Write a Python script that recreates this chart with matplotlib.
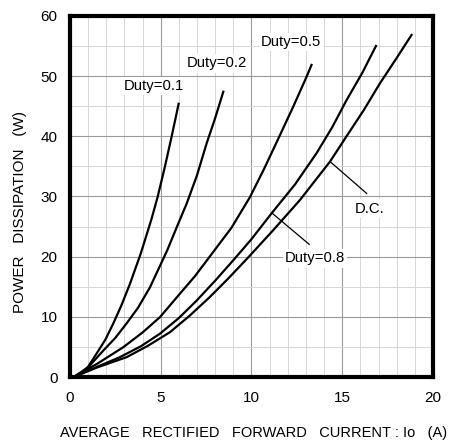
import matplotlib
matplotlib.use("Agg")
import matplotlib.pyplot as plt
from matplotlib.ticker import MultipleLocator

plt.rcParams['font.family'] = ['Liberation Sans', 'DejaVu Sans']

# Power dissipation curves (Io in A, P in W)
duty01_io = [0.2, 0.55, 1.0, 1.47, 1.95, 2.39, 2.85, 3.31, 3.9, 4.5, 4.83, 5.23, 5.6, 5.99]
duty01_p = [0.0, 0.5, 1.7, 3.9, 6.2, 8.9, 12.0, 15.5, 20.5, 26.3, 29.9, 34.9, 39.9, 45.4]

duty02_io = [0.2, 1.0, 1.84, 2.5, 3.12, 3.75, 4.41, 5.36, 5.9, 6.43, 7.0, 7.53, 8.0, 8.45]
duty02_p = [0.0, 1.6, 4.4, 6.5, 8.9, 11.5, 14.9, 21.05, 25.0, 28.8, 33.5, 38.8, 43.0, 47.4]

duty05_io = [0.2, 1.5, 2.94, 4.0, 4.96, 6.06, 6.9, 7.8, 8.9, 9.92, 10.7, 11.48, 12.3, 13.04, 13.31]
duty05_p = [0.0, 2.2, 4.96, 7.4, 9.95, 13.85, 16.8, 20.4, 24.8, 29.9, 34.6, 39.6, 44.9, 49.9, 51.85]

duty08_io = [0.2, 1.5, 2.75, 3.9, 4.96, 6.0, 6.98, 8.0, 9.0, 10.0, 11.11, 12.4, 13.59, 14.45, 15.24, 16.1, 16.86]
duty08_p = [0.0, 1.7, 3.3, 5.1, 7.2, 9.8, 12.7, 16.0, 19.4, 22.9, 27.2, 32.0, 37.2, 41.5, 46.0, 50.5, 55.0]

dc_io = [0.2, 1.5, 3.12, 4.3, 5.51, 6.6, 7.71, 8.7, 9.8, 11.2, 12.67, 14.33, 15.24, 16.2, 17.08, 18.0, 18.82]
dc_p = [0.0, 1.6, 3.3, 5.2, 7.45, 10.2, 13.3, 16.3, 19.8, 24.4, 29.4, 35.8, 40.0, 44.4, 48.8, 53.0, 56.83]

xticks = [0, 5, 10, 15, 20]
yticks = [0, 10, 20, 30, 40, 50, 60]

fig = plt.figure(figsize=(4.51, 4.41), dpi=100)
ax = fig.add_axes([0.155, 0.145, 0.805, 0.819])

for xs, ys in [(duty01_io, duty01_p), (duty02_io, duty02_p), (duty05_io, duty05_p),
               (duty08_io, duty08_p), (dc_io, dc_p)]:
    ax.plot(xs, ys, color='black', lw=1.6, solid_joinstyle='round', zorder=3)

ax.set_xlim(0, 20)
ax.set_ylim(0, 60)
ax.set_xticks(xticks)
ax.set_yticks(yticks)
ax.xaxis.set_minor_locator(MultipleLocator(1))
ax.yaxis.set_minor_locator(MultipleLocator(5))
ax.grid(which='major', color='#9a9a9a', lw=0.8)
ax.grid(which='minor', color='#d6d6d6', lw=0.7)
ax.set_axisbelow(True)
ax.tick_params(which='both', length=0, labelsize=11)
ax.tick_params(axis='x', pad=10)
ax.tick_params(axis='y', pad=9)
for s in ax.spines.values():
    s.set_linewidth(3)

ax.set_xlabel('AVERAGE   RECTIFIED   FORWARD   CURRENT : Io   (A)', fontsize=10.5, va='center')
ax.xaxis.set_label_coords(0.505, -0.155)
ax.set_ylabel('POWER   DISSIPATION   (W)', fontsize=11, va='center')
ax.yaxis.set_label_coords(-0.138, 0.457)

box = dict(facecolor='white', edgecolor='none', pad=1.5)
ax.text(4.6, 48.4, 'Duty=0.1', ha='center', va='center', fontsize=10.7, bbox=box, zorder=4)
ax.text(8.1, 52.1, 'Duty=0.2', ha='center', va='center', fontsize=10.7, bbox=box, zorder=4)
ax.text(12.2, 55.6, 'Duty=0.5', ha='center', va='center', fontsize=10.7, bbox=box, zorder=4)
ax.text(16.5, 28.0, 'D.C.', ha='center', va='center', fontsize=10.7, bbox=box, zorder=4)
ax.text(13.5, 19.7, 'Duty=0.8', ha='center', va='center', fontsize=10.7, bbox=box, zorder=4)

# leader lines for the lower labels
ax.plot([14.33, 16.35], [35.8, 30.5], color='black', lw=0.9, zorder=3)
ax.plot([11.11, 13.18], [27.3, 22.05], color='black', lw=0.9, zorder=3)

fig.savefig('out.png', dpi=100)
